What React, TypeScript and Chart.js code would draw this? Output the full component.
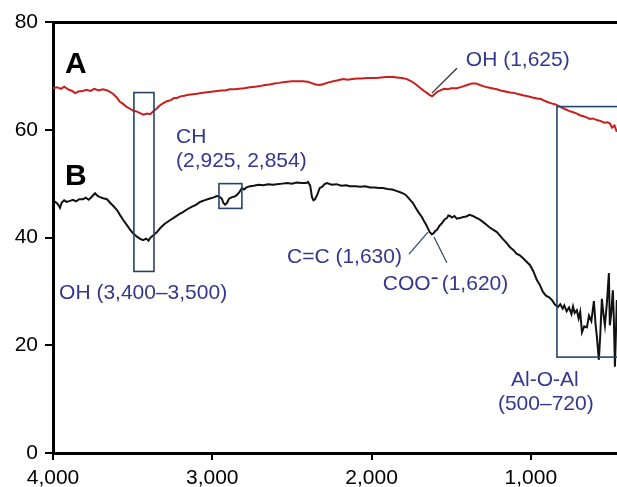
import { useEffect, useRef } from "react";
import { Chart, registerables } from "chart.js";

Chart.register(...registerables);

const FAMILY = "'Liberation Sans', Arial, Helvetica, sans-serif";

// Series A (red) — wavenumber (cm-1) and transmittance
const wavenumbersA = [
  4000, 3975, 3950, 3930, 3905, 3880, 3862, 3840, 3812, 3790, 3765, 3740, 3715, 3686, 3660, 3640, 3620, 3600,
  3580, 3560, 3540, 3517, 3495, 3475, 3454, 3432, 3410, 3390, 3372, 3350, 3330, 3310, 3285, 3260, 3240, 3222,
  3200, 3175, 3150, 3121, 3095, 3070, 3045, 3020, 2995, 2971, 2945, 2920, 2890, 2860, 2830, 2800, 2763, 2730,
  2700, 2670, 2640, 2610, 2580, 2556, 2530, 2500, 2470, 2431, 2400, 2380, 2350, 2324, 2300, 2270, 2240, 2210,
  2180, 2150, 2120, 2090, 2060, 2029, 2000, 1970, 1940, 1910, 1866, 1840, 1810, 1778, 1750, 1725, 1696, 1670,
  1650, 1634, 1620, 1605, 1590, 1575, 1560, 1545, 1520, 1500, 1464, 1430, 1400, 1370, 1345, 1320, 1290, 1260,
  1230, 1213, 1190, 1160, 1130, 1100, 1075, 1050, 1020, 990, 960, 935, 924, 900, 870, 845, 818, 790, 760, 730,
  710, 692, 670, 650, 630, 610, 585, 560, 540, 520, 504, 490, 475, 460,
];
const valuesA = [
  67.7, 67.9, 67.6, 68.0, 67.5, 67.2, 66.8, 67.1, 67.2, 67.4, 67.2, 67.6, 67.3, 67.5, 67.3, 67.0, 66.6, 66.0,
  65.2, 64.8, 64.3, 63.9, 63.5, 63.4, 63.1, 62.8, 63.0, 62.9, 63.4, 63.9, 64.5, 64.9, 65.3, 65.5, 65.9, 65.9,
  66.2, 66.3, 66.5, 66.6, 66.7, 66.8, 66.9, 67.0, 67.1, 67.2, 67.3, 67.3, 67.5, 67.5, 67.6, 67.7, 67.9, 68.0,
  68.1, 68.3, 68.4, 68.6, 68.7, 68.8, 68.9, 69.0, 69.0, 69.0, 68.9, 68.7, 68.4, 68.3, 68.5, 68.8, 69.0, 69.2,
  69.4, 69.3, 69.4, 69.5, 69.5, 69.6, 69.6, 69.6, 69.7, 69.8, 69.8, 69.7, 69.6, 69.4, 69.0, 68.5, 67.8, 67.2,
  66.8, 66.4, 66.2, 66.6, 67.0, 67.2, 67.4, 67.6, 67.5, 67.7, 67.7, 68.0, 68.3, 68.6, 68.6, 68.3, 68.0, 67.8,
  67.6, 67.5, 67.3, 67.1, 66.9, 66.8, 66.6, 66.4, 66.2, 66.0, 65.8, 65.7, 65.5, 65.2, 64.9, 64.7, 64.3, 63.9, 63.5, 63.2,
  63.0, 62.7, 62.5, 62.3, 62.0, 62.1, 61.8, 61.6, 61.3, 61.4, 61.2, 60.4, 60.8, 59.6,
];

// Series B (black)
const wavenumbersB = [
  4000, 3985, 3970, 3956, 3945, 3930, 3915, 3893, 3875, 3855, 3835, 3812, 3795, 3775, 3755, 3736, 3720, 3705,
  3685, 3661, 3640, 3620, 3598, 3580, 3560, 3536, 3515, 3498, 3475, 3455, 3435, 3415, 3400, 3391, 3370, 3347,
  3325, 3300, 3266, 3240, 3210, 3184, 3160, 3130, 3100, 3077, 3050, 3020, 2995, 2971, 2955, 2940, 2930, 2920,
  2908, 2895, 2876, 2860, 2845, 2830, 2814, 2800, 2785, 2763, 2740, 2710, 2680, 2650, 2620, 2594, 2560, 2530,
  2500, 2470, 2440, 2410, 2399, 2385, 2374, 2365, 2355, 2340, 2325, 2311, 2295, 2280, 2250, 2220, 2190, 2160,
  2136, 2100, 2070, 2040, 2010, 1980, 1950, 1929, 1900, 1870, 1840, 1820, 1803, 1785, 1770, 1755, 1740, 1725,
  1710, 1696, 1684, 1670, 1658, 1646, 1635, 1621, 1610, 1600, 1590, 1575, 1560, 1552, 1540, 1527, 1518, 1508,
  1495, 1480, 1465, 1445, 1425, 1405, 1385, 1364, 1345, 1325, 1301, 1280, 1260, 1240, 1213, 1195, 1175, 1150,
  1131, 1110, 1090, 1069, 1050, 1030, 1006, 985, 962, 945, 924, 905, 885, 868, 850, 830, 815, 800, 790, 775,
  760, 745, 735, 725, 711, 700, 690, 679, 665, 648, 635, 620, 604, 594, 585, 573, 564, 554, 545, 535, 522, 510,
  504, 495, 485, 479, 472, 466, 460,
];
const valuesB = [
  46.4, 46.6, 46.2, 45.5, 46.5, 46.9, 46.6, 46.8, 47.0, 46.7, 47.1, 47.1, 47.4, 47.0, 47.6, 48.2, 47.7, 47.5,
  47.3, 47.1, 46.4, 45.8, 45.1, 44.2, 43.3, 42.3, 41.4, 40.8, 40.2, 39.8, 39.5, 39.8, 39.4, 39.9, 40.4, 41.0,
  41.8, 42.5, 43.2, 43.7, 44.3, 44.7, 45.2, 45.7, 46.1, 46.6, 46.9, 47.2, 47.4, 47.7, 47.6, 47.2, 46.4, 46.1,
  46.4, 47.2, 47.5, 47.6, 47.9, 48.4, 49.2, 48.9, 49.3, 49.5, 49.6, 49.8, 49.7, 49.9, 49.8, 49.9, 50.0, 50.1,
  50.0, 50.2, 50.1, 50.1, 50.3, 49.6, 47.5, 46.9, 47.1, 48.0, 49.2, 49.4, 49.9, 50.1, 49.8, 49.9, 49.6, 49.7,
  49.5, 49.5, 49.4, 49.5, 49.3, 49.3, 49.2, 49.2, 49.0, 48.9, 48.6, 48.4, 48.2, 47.9, 47.4, 46.9, 46.4, 45.6,
  44.9, 44.3, 43.8, 43.0, 42.4, 41.7, 41.0, 40.6, 40.8, 41.2, 41.4, 42.1, 42.6, 42.9, 43.4, 43.6, 44.1, 44.0,
  43.7, 44.0, 43.5, 43.6, 43.8, 43.9, 44.2, 44.0, 43.7, 43.4, 42.9, 42.4, 41.9, 41.5, 41.0, 40.4, 39.7, 38.9,
  38.2, 37.7, 37.0, 36.7, 36.2, 35.6, 34.9, 33.8, 32.1, 31.3, 29.9, 29.2, 28.9, 28.4, 27.6, 27.1, 27.6, 26.8, 27.4, 26.3,
  27.0, 25.8, 27.2, 26.0, 26.5, 25.0, 26.2, 22.4, 23.5, 23.3, 25.5, 24.5, 28.2, 24.0, 21.5, 17.3, 22.0, 28.6, 26.0, 23.7, 28.0, 33.4,
  23.7, 26.0, 30.2, 25.0, 16.0, 22.0, 28.4,
];

const xTicks = [4000, 3000, 2000, 1000];
const yTicks = [0, 20, 40, 60, 80];
const X_MIN = 459;
const X_MAX = 4000;

// Annotations, in data coordinates
const boxes = [
  { x1: 3492, x2: 3366, y1: 66.9, y2: 33.7 },
  { x1: 2958, x2: 2814, y1: 50.0, y2: 45.4 },
  { x1: 836, x2: 300, y1: 64.3, y2: 17.8 },
];
const leaderLines = [
  { x1: 1464, y1: 71.4, x2: 1621, y2: 66.8, color: "#333333" },
  { x1: 1765, y1: 36.9, x2: 1646, y2: 41.0, color: "#2f5070" },
  { x1: 1608, y1: 40.1, x2: 1527, y2: 35.3, color: "#2f5070" },
];
const seriesLabels = [
  { text: "A", x: 3925, y: 70.5 },
  { text: "B", x: 3925, y: 49.7 },
];
const noteLabels = [
  { text: "OH (1,625)", x: 1408, y: 71.8, align: "left" },
  { text: "CH", x: 3228, y: 57.5, align: "left" },
  { text: "(2,925, 2,854)", x: 3228, y: 53.1, align: "left" },
  { text: "OH (3,400–3,500)", x: 3962, y: 28.6, align: "left" },
  { text: "C=C (1,630)", x: 1809, y: 35.3, align: "right" },
  { text: "Al-O-Al", x: 912, y: 12.4, align: "center" },
  { text: "(500–720)", x: 906, y: 8.0, align: "center" },
];
const cooLabel = { main: "COO", rest: "(1,620)", x: 1929, y: 30.2 };

const TEXT_COLOR = "#34378e";
const BOX_COLOR = "#254469";

const annotationPlugin = {
  id: "ftirAnnotations",
  afterDatasetsDraw(chart: any) {
    const { ctx, scales } = chart;
    const xs = scales.x;
    const ys = scales.y;
    const px = (v: number) => xs.getPixelForValue(v);
    const py = (v: number) => ys.getPixelForValue(v);
    ctx.save();

    ctx.strokeStyle = BOX_COLOR;
    ctx.lineWidth = 1.6;
    for (const b of boxes) {
      const l = Math.min(px(b.x1), px(b.x2));
      const r = Math.max(px(b.x1), px(b.x2));
      const t = Math.min(py(b.y1), py(b.y2));
      const bt = Math.max(py(b.y1), py(b.y2));
      ctx.strokeRect(l, t, r - l, bt - t);
    }

    ctx.lineWidth = 1.3;
    for (const ln of leaderLines) {
      ctx.strokeStyle = ln.color;
      ctx.beginPath();
      ctx.moveTo(px(ln.x1), py(ln.y1));
      ctx.lineTo(px(ln.x2), py(ln.y2));
      ctx.stroke();
    }

    ctx.textBaseline = "alphabetic";
    ctx.fillStyle = "#000";
    ctx.font = `bold 30px ${FAMILY}`;
    ctx.textAlign = "left";
    for (const s of seriesLabels) ctx.fillText(s.text, px(s.x), py(s.y));

    ctx.fillStyle = TEXT_COLOR;
    ctx.font = `21px ${FAMILY}`;
    for (const n of noteLabels) {
      ctx.textAlign = n.align as CanvasTextAlign;
      ctx.fillText(n.text, px(n.x), py(n.y));
    }

    // COO⁻ (1,620)
    ctx.textAlign = "left";
    const cx = px(cooLabel.x);
    const cy = py(cooLabel.y);
    ctx.fillText(cooLabel.main, cx, cy);
    const w = ctx.measureText(cooLabel.main).width;
    ctx.fillRect(cx + w + 1, cy - 13, 6, 1.8);
    ctx.fillText(cooLabel.rest, cx + w + 11, cy);

    ctx.restore();
  },
};

export default function App() {
  const canvasRef = useRef<HTMLCanvasElement | null>(null);

  useEffect(() => {
    if (!canvasRef.current) return;
    Chart.defaults.font.family = FAMILY;
    const chart = new Chart(canvasRef.current, {
      type: "line",
      data: {
        datasets: [
          {
            label: "A",
            data: wavenumbersA.map((w, i) => ({ x: w, y: valuesA[i] })),
            borderColor: "#c81e1c",
            borderWidth: 2,
            pointRadius: 0,
            tension: 0,
          },
          {
            label: "B",
            data: wavenumbersB.map((w, i) => ({ x: w, y: valuesB[i] })),
            borderColor: "#111111",
            borderWidth: 2,
            pointRadius: 0,
            tension: 0,
          },
        ],
      },
      options: {
        responsive: false,
        animation: false,
        devicePixelRatio: 1,
        layout: { padding: { top: 22, right: 0, left: 0, bottom: 0 } },
        plugins: { legend: { display: false }, tooltip: { enabled: false } },
        scales: {
          x: {
            type: "linear",
            reverse: true,
            min: X_MIN,
            max: X_MAX,
            afterBuildTicks: (s: any) => {
              s.ticks = xTicks.map((v) => ({ value: v }));
            },
            afterFit: (s: any) => {
              s.height = 34;
            },
            ticks: {
              color: "#000",
              font: { size: 21, family: FAMILY },
              padding: 6,
              maxRotation: 0,
              autoSkip: false,
              callback: (v: any) => Number(v).toLocaleString("en-US"),
            },
            grid: { drawOnChartArea: false, drawTicks: true, tickLength: 7, color: "#000", lineWidth: 2 },
            border: { display: true, color: "#000", width: 3 },
          },
          xTop: {
            type: "linear",
            position: "top",
            min: 0,
            max: 1,
            afterFit: (s: any) => {
              s.height = 0;
            },
            ticks: { display: false },
            grid: { display: false },
            border: { display: true, color: "#000", width: 3 },
          },
          y: {
            type: "linear",
            min: 0,
            max: 80,
            afterBuildTicks: (s: any) => {
              s.ticks = yTicks.map((v) => ({ value: v }));
            },
            afterFit: (s: any) => {
              s.width = 53;
            },
            ticks: {
              color: "#000",
              font: { size: 21, family: FAMILY },
              padding: 7,
            },
            grid: { drawOnChartArea: false, drawTicks: true, tickLength: 8, color: "#000", lineWidth: 2 },
            border: { display: true, color: "#000", width: 3 },
          },
        },
      },
      plugins: [annotationPlugin],
    } as any);
    return () => chart.destroy();
  }, []);

  return (
    <div style={{ position: "fixed", left: 0, top: 0, width: 617, height: 487, background: "#fff" }}>
      <canvas ref={canvasRef} width={617} height={487} style={{ display: "block" }} />
    </div>
  );
}
